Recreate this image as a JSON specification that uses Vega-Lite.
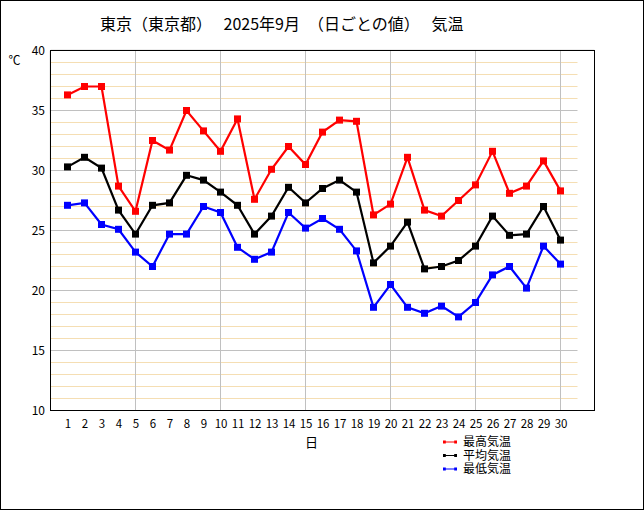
{
  "$schema": "https://vega.github.io/schema/vega-lite/v6.json",
  "description": "東京 2025年9月 日ごとの気温",
  "width": 644,
  "height": 510,
  "autosize": "none",
  "padding": 0,
  "background": "white",
  "title": {
    "text": "東京（東京都）　 2025年9月　（日ごとの値）　    気温",
    "anchor": "start",
    "frame": "group",
    "dx": 100,
    "offset": -33,
    "font": "Noto Sans CJK JP",
    "fontSize": 16,
    "fontWeight": "normal",
    "color": "black"
  },
  "config": {
    "view": {"stroke": "black", "strokeWidth": 2},
    "axis": {
      "labelFont": "Noto Sans CJK JP",
      "titleFont": "Noto Sans CJK JP",
      "labelColor": "black",
      "titleColor": "black",
      "labelOverlap": false,
      "labelBound": false,
      "labelFlush": false
    },
    "legend": {"labelFont": "Noto Sans CJK JP"}
  },
  "datasets": {
    "minorGrid": [
      {"v": 11}, {"v": 12}, {"v": 13}, {"v": 14},
      {"v": 16}, {"v": 17}, {"v": 18}, {"v": 19},
      {"v": 21}, {"v": 22}, {"v": 23}, {"v": 24},
      {"v": 26}, {"v": 27}, {"v": 28}, {"v": 29},
      {"v": 31}, {"v": 32}, {"v": 33}, {"v": 34},
      {"v": 36}, {"v": 37}, {"v": 38}, {"v": 39}
    ],
    "majorGrid": [{"v": 15}, {"v": 20}, {"v": 25}, {"v": 30}, {"v": 35}],
    "dayGrid": [{"d": 5}, {"d": 10}, {"d": 15}, {"d": 20}, {"d": 25}, {"d": 30}],
    "temps": [
      {"日": 1, "最高気温": 36.3, "平均気温": 30.3, "最低気温": 27.1},
      {"日": 2, "最高気温": 37.0, "平均気温": 31.1, "最低気温": 27.3},
      {"日": 3, "最高気温": 37.0, "平均気温": 30.2, "最低気温": 25.5},
      {"日": 4, "最高気温": 28.7, "平均気温": 26.7, "最低気温": 25.1},
      {"日": 5, "最高気温": 26.6, "平均気温": 24.7, "最低気温": 23.2},
      {"日": 6, "最高気温": 32.5, "平均気温": 27.1, "最低気温": 22.0},
      {"日": 7, "最高気温": 31.7, "平均気温": 27.3, "最低気温": 24.7},
      {"日": 8, "最高気温": 35.0, "平均気温": 29.6, "最低気温": 24.7},
      {"日": 9, "最高気温": 33.3, "平均気温": 29.2, "最低気温": 27.0},
      {"日": 10, "最高気温": 31.6, "平均気温": 28.2, "最低気温": 26.5},
      {"日": 11, "最高気温": 34.3, "平均気温": 27.1, "最低気温": 23.6},
      {"日": 12, "最高気温": 27.6, "平均気温": 24.7, "最低気温": 22.6},
      {"日": 13, "最高気温": 30.1, "平均気温": 26.2, "最低気温": 23.2},
      {"日": 14, "最高気温": 32.0, "平均気温": 28.6, "最低気温": 26.5},
      {"日": 15, "最高気温": 30.5, "平均気温": 27.3, "最低気温": 25.2},
      {"日": 16, "最高気温": 33.2, "平均気温": 28.5, "最低気温": 26.0},
      {"日": 17, "最高気温": 34.2, "平均気温": 29.2, "最低気温": 25.1},
      {"日": 18, "最高気温": 34.1, "平均気温": 28.2, "最低気温": 23.3},
      {"日": 19, "最高気温": 26.3, "平均気温": 22.3, "最低気温": 18.6},
      {"日": 20, "最高気温": 27.2, "平均気温": 23.7, "最低気温": 20.5},
      {"日": 21, "最高気温": 31.1, "平均気温": 25.7, "最低気温": 18.6},
      {"日": 22, "最高気温": 26.7, "平均気温": 21.8, "最低気温": 18.1},
      {"日": 23, "最高気温": 26.2, "平均気温": 22.0, "最低気温": 18.7},
      {"日": 24, "最高気温": 27.5, "平均気温": 22.5, "最低気温": 17.8},
      {"日": 25, "最高気温": 28.8, "平均気温": 23.7, "最低気温": 19.0},
      {"日": 26, "最高気温": 31.6, "平均気温": 26.2, "最低気温": 21.3},
      {"日": 27, "最高気温": 28.1, "平均気温": 24.6, "最低気温": 22.0},
      {"日": 28, "最高気温": 28.7, "平均気温": 24.7, "最低気温": 20.2},
      {"日": 29, "最高気温": 30.8, "平均気温": 27.0, "最低気温": 23.7},
      {"日": 30, "最高気温": 28.3, "平均気温": 24.2, "最低気温": 22.2}
    ]
  },
  "layer": [
    {
      "data": {"name": "minorGrid"},
      "mark": {"type": "rule", "color": "#f5deb3", "strokeWidth": 1},
      "encoding": {
        "x": {"datum": 0, "type": "quantitative"},
        "x2": {"datum": 31},
        "y": {"field": "v", "type": "quantitative"}
      }
    },
    {
      "data": {"name": "majorGrid"},
      "mark": {"type": "rule", "color": "#c0c0c0", "strokeWidth": 1},
      "encoding": {
        "x": {"datum": 0, "type": "quantitative"},
        "x2": {"datum": 31},
        "y": {"field": "v", "type": "quantitative"}
      }
    },
    {
      "data": {"name": "dayGrid"},
      "mark": {"type": "rule", "color": "#c0c0c0", "strokeWidth": 1},
      "encoding": {
        "x": {"field": "d", "type": "quantitative"},
        "y": {"datum": 10, "type": "quantitative"},
        "y2": {"datum": 40}
      }
    },
    {
      "data": {"name": "dayGrid"},
      "mark": {"type": "rect", "fill": null, "stroke": "black", "strokeWidth": 1},
      "encoding": {
        "x": {"datum": 0, "type": "quantitative"},
        "x2": {"datum": 32},
        "y": {"datum": 10, "type": "quantitative"},
        "y2": {"datum": 40}
      }
    },
    {
      "data": {"name": "temps"},
      "transform": [
        {"fold": ["最高気温", "平均気温", "最低気温"], "as": ["種別", "気温"]}
      ],
      "mark": {
        "type": "line",
        "strokeWidth": 2.2,
        "point": {"shape": "square", "size": 49, "filled": true, "opacity": 1}
      },
      "encoding": {
        "x": {
          "field": "日",
          "type": "quantitative",
          "scale": {"domain": [-2.970588, 34.911765], "nice": false, "zero": false},
          "axis": {
            "orient": "bottom",
            "offset": -99.5,
            "values": [1, 2, 3, 4, 5, 6, 7, 8, 9, 10, 11, 12, 13, 14, 15, 16, 17, 18, 19, 20, 21, 22, 23, 24, 25, 26, 27, 28, 29, 30],
            "tickCount": 40,
            "domain": false,
            "ticks": false,
            "grid": false,
            "labelOverlap": false,
            "labelPadding": 8,
            "labelFontSize": 11.5,
            "title": "日",
            "titleFontSize": 13,
            "titleFontWeight": "normal",
            "titleX": 311,
            "titleY": 32,
            "titleBaseline": "middle"
          }
        },
        "y": {
          "field": "気温",
          "type": "quantitative",
          "scale": {"domain": [1.708333, 44.208333], "nice": false, "zero": false},
          "axis": {
            "orient": "left",
            "offset": -50.5,
            "values": [10, 15, 20, 25, 30, 35, 40],
            "tickCount": 20,
            "domain": false,
            "ticks": false,
            "grid": false,
            "labelPadding": 6,
            "labelFontSize": 12,
            "title": "℃",
            "titleAngle": 0,
            "titleFontSize": 12,
            "titleFontWeight": "normal",
            "titleX": -36.5,
            "titleY": 60,
            "titleAlign": "center",
            "titleBaseline": "middle"
          }
        },
        "color": {
          "field": "種別",
          "type": "nominal",
          "scale": {"domain": ["最高気温", "平均気温", "最低気温"], "range": ["#ff0000", "#000000", "#0000ff"]},
          "legend": {
            "title": null,
            "orient": "none",
            "legendX": 443,
            "legendY": 435,
            "direction": "vertical",
            "symbolType": "M-1,-0.22H-0.6V-0.08H0.6V-0.22H1V0.22H0.6V0.08H-0.6V0.22H-1Z",
            "symbolSize": 196,
            "symbolStrokeWidth": 0,
            "labelFontSize": 12,
            "labelOffset": 6,
            "rowPadding": 0.5,
            "encode": {
              "symbols": {"update": {"fill": {"scale": "color", "field": "value"}, "stroke": {"value": "transparent"}, "opacity": {"value": 1}}}
            }
          }
        }
      }
    }
  ]
}
